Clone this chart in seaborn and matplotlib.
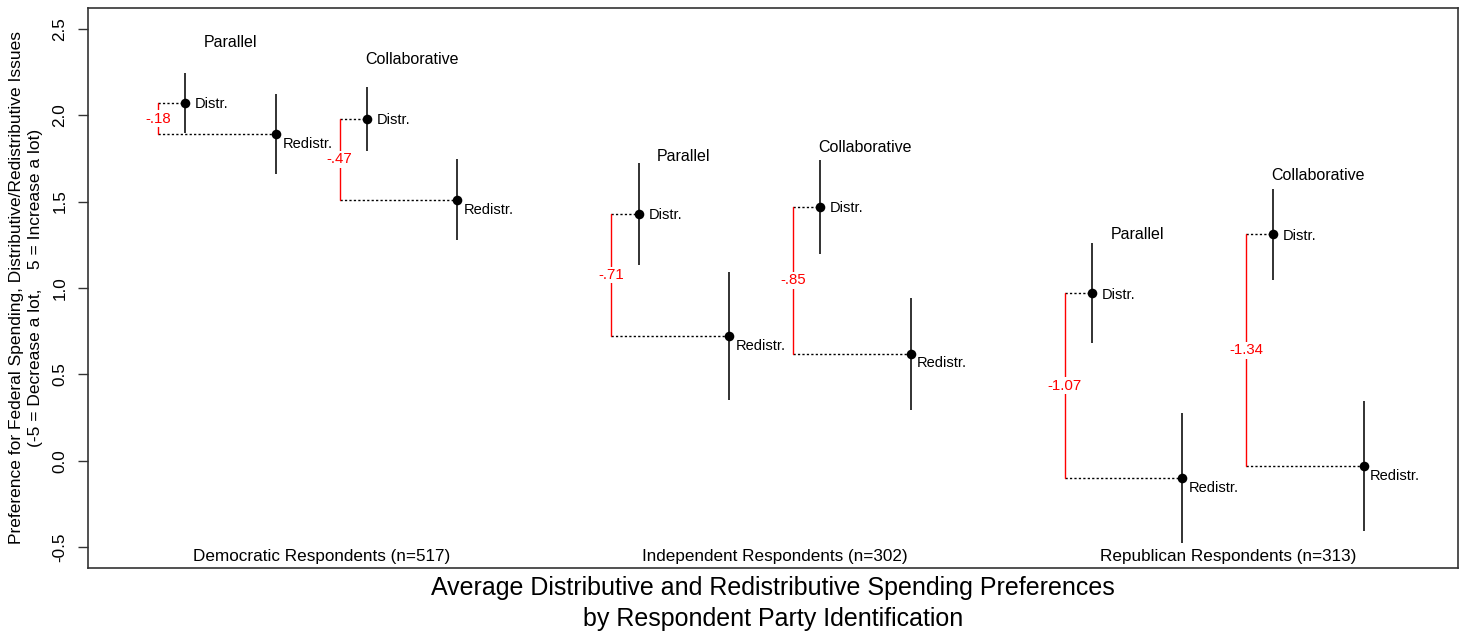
import numpy as np
import pandas as pd
import matplotlib
matplotlib.use("Agg")
import matplotlib.pyplot as plt
import seaborn as sns

# ---- data -------------------------------------------------------------
groups = ["Democratic Respondents (n=517)",
          "Independent Respondents (n=302)",
          "Republican Respondents (n=313)"]
models = ["Parallel", "Collaborative"]

# order: Dem-Parallel, Dem-Collab, Ind-Parallel, Ind-Collab, Rep-Parallel, Rep-Collab
distr_mean = [2.07, 1.98, 1.43, 1.47, 0.97, 1.31]
redistr_mean = [1.89, 1.51, 0.72, 0.62, -0.10, -0.03]
distr_err = [0.175, 0.185, 0.295, 0.273, 0.288, 0.265]
redistr_err = [0.23, 0.235, 0.37, 0.324, 0.377, 0.378]

# x slots for the distributive estimate of each model (redistributive sits one to the right)
distr_pos = [1, 3, 6, 8, 11, 13]
model_label_y = [2.42, 2.32, 1.76, 1.81, 1.31, 1.65]
group_center = [2.5, 7.5, 12.5]

# ---- tidy frame -------------------------------------------------------
rows = []
for i, (dm, rm, de, re_, dp) in enumerate(zip(distr_mean, redistr_mean,
                                               distr_err, redistr_err, distr_pos)):
    rows.append(dict(pair=i, kind="Distr.", pos=dp, mean=dm, err=de))
    rows.append(dict(pair=i, kind="Redistr.", pos=dp + 1, mean=rm, err=re_))
df = pd.DataFrame(rows)
df["lo"] = df["mean"] - df["err"]
df["hi"] = df["mean"] + df["err"]

# ---- style ------------------------------------------------------------
sns.set_style("white")
plt.rcParams["font.family"] = ["Liberation Sans", "DejaVu Sans"]
plt.rcParams["text.color"] = "black"
plt.rcParams["ytick.labelcolor"] = "black"

fig = plt.figure(figsize=(14.63, 6.34), dpi=100)
ax = fig.add_axes([88 / 1463, 1 - 568 / 634, (1458 - 88) / 1463, (568 - 8) / 634])

# confidence intervals
ax.vlines(df["pos"], df["lo"], df["hi"], color="#222222", lw=1.3, zorder=2)

# point estimates
sns.scatterplot(data=df, x="pos", y="mean", color="black", s=48,
                linewidth=0, legend=False, ax=ax, zorder=4)

dot = (0, (1.6, 1.6))
for i in range(len(distr_mean)):
    dp = distr_pos[i]
    bx = dp - 0.3
    d, r = distr_mean[i], redistr_mean[i]
    # connectors from the bracket to each estimate
    ax.plot([bx, dp], [d, d], color="black", lw=1, ls=dot, zorder=1)
    ax.plot([bx, dp + 1], [r, r], color="black", lw=1, ls=dot, zorder=1)
    # red difference bracket
    ax.plot([bx, bx], [r, d], color="red", lw=1, zorder=1)
    diff = r - d
    lab = f"{diff:.2f}".replace("-0.", "-.")
    ax.text(bx, (d + r) / 2, lab, color="red", fontsize=10.8, ha="center", va="center",
            bbox=dict(facecolor="white", edgecolor="none", pad=1.0), zorder=3)
    # point labels
    ax.annotate("Distr.", (dp, d), xytext=(7, -1), textcoords="offset points",
                ha="left", va="center", fontsize=10.5)
    ax.annotate("Redistr.", (dp + 1, r), xytext=(4.5, -7), textcoords="offset points",
                ha="left", va="center", fontsize=10.5)
    # model name
    ax.text(dp + 0.5, model_label_y[i], models[i % 2], ha="center", va="center",
            fontsize=11.5)

for g, c in zip(groups, group_center):
    ax.text(c, -0.555, g, ha="center", va="center", fontsize=12.3)

# ---- axes -------------------------------------------------------------
ax.set_xlim(-0.075, 15.04)
ax.set_ylim(-0.62, 2.62)
ax.set_xticks([])
ax.set_yticks([-0.5, 0.0, 0.5, 1.0, 1.5, 2.0, 2.5])
ax.set_yticklabels(["-0.5", "0.0", "0.5", "1.0", "1.5", "2.0", "2.5"])
ax.tick_params(axis="y", length=7.2, width=1, color="#333333", pad=7.5,
               labelsize=12.3, left=True, labelcolor="black")
for t in ax.get_yticklabels():
    t.set_rotation(90)
    t.set_va("center")
ax.set_xlabel("")
ax.set_ylabel("")
for s in ax.spines.values():
    s.set_visible(True)
    s.set_color("#333333")
    s.set_linewidth(1.2)

fig.text(26 / 1463, 1 - 288 / 634,
         "Preference for Federal Spending, Distributive/Redistributive Issues\n"
         "(-5 = Decrease a lot,    5 = Increase a lot)",
         rotation=90, ha="center", va="center", fontsize=12.5,
         multialignment="center", linespacing=1.38)

fig.text(773 / 1463, 1 - 603.5 / 634,
         "Average Distributive and Redistributive Spending Preferences\n"
         "by Respondent Party Identification",
         ha="center", va="center", fontsize=18, linespacing=1.38)

fig.savefig("out.png", dpi=100)
